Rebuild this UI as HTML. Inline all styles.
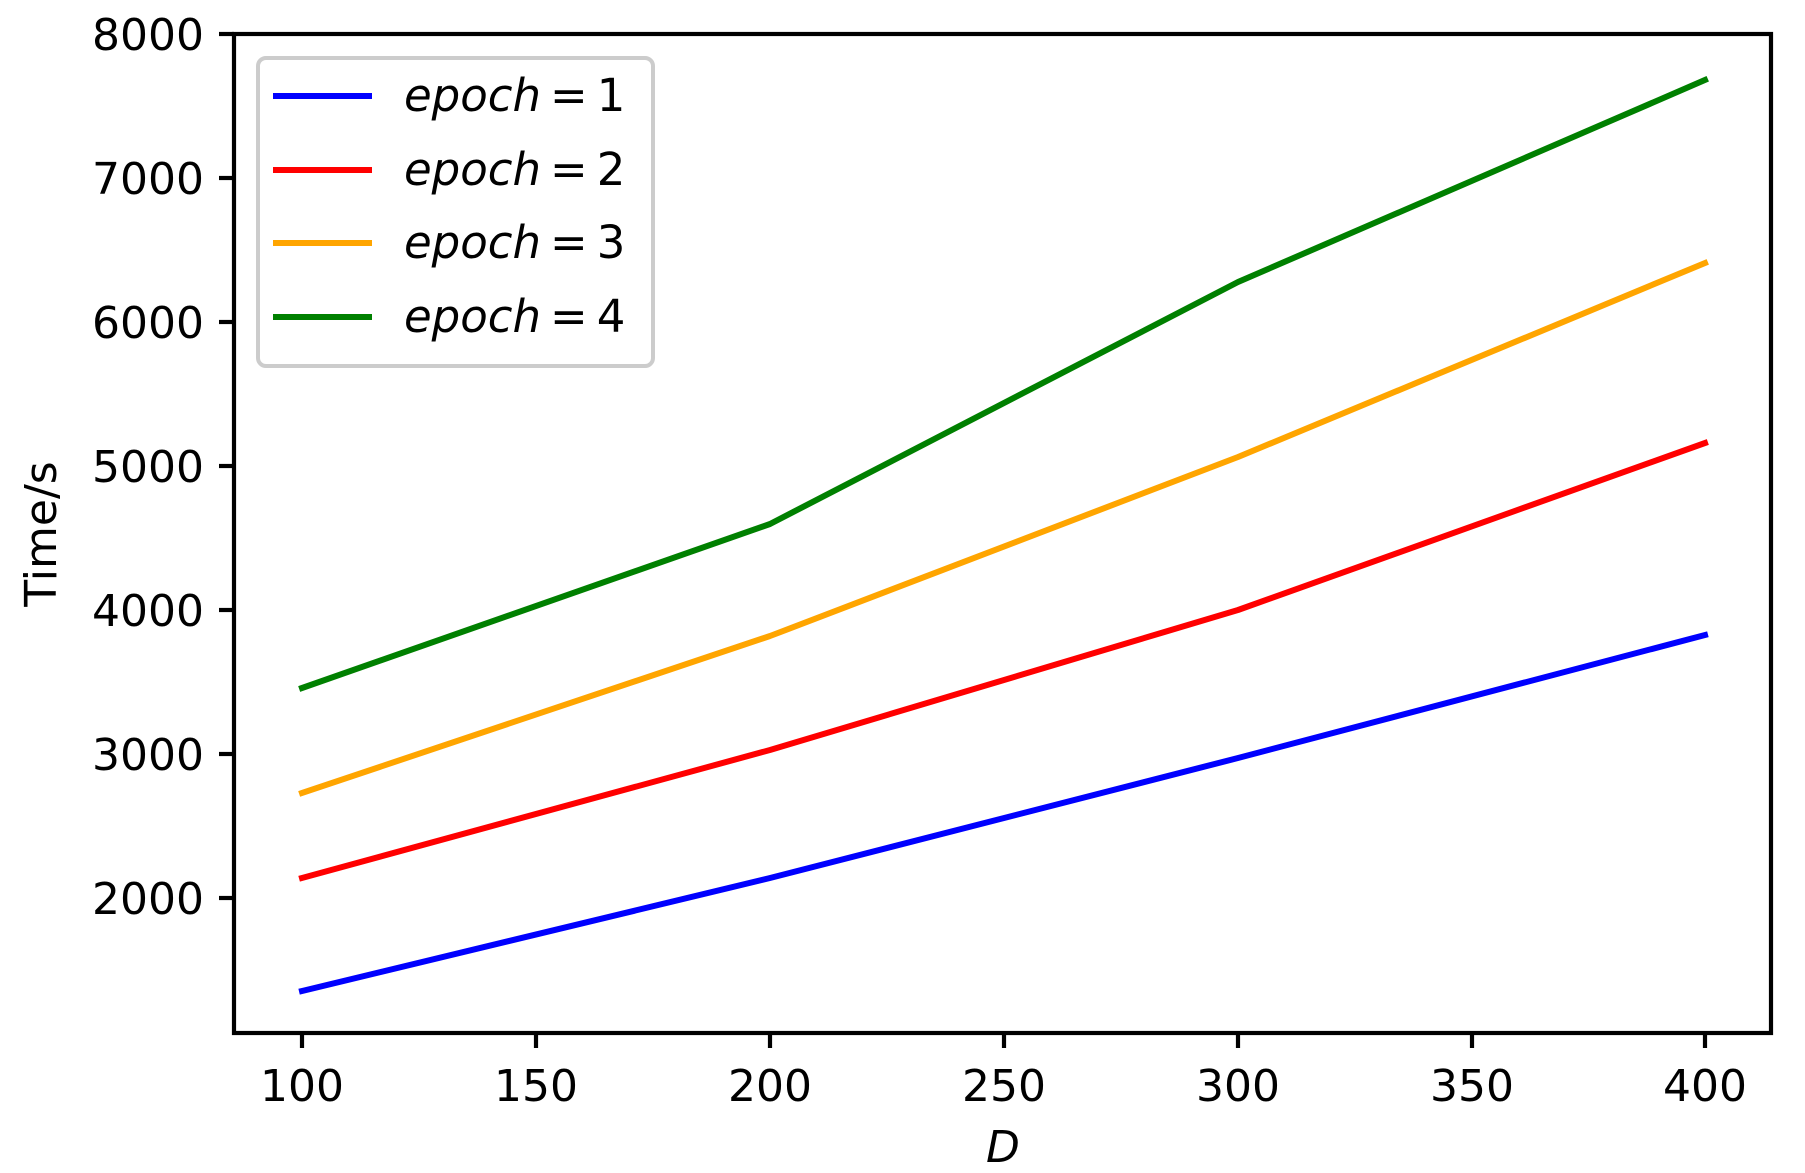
<!DOCTYPE html>
<html><head><meta charset="utf-8"><style>
html,body{margin:0;padding:0;background:#fff}
svg{display:block}
text{font-family:"DejaVu Sans","Liberation Sans",sans-serif;fill:#000}
</style></head><body>
<svg width="1805" height="1173" viewBox="0 0 1805 1173" xmlns="http://www.w3.org/2000/svg">
<g fill="none" stroke-width="6" stroke-linecap="square" stroke-linejoin="round">
<polyline stroke="#0000ff" points="302,991 770,878 1238,758 1705,635"/>
<polyline stroke="#ff0000" points="302,878 770,750 1238,610 1705,443"/>
<polyline stroke="#ffa500" points="302,793 770,636 1238,457 1705,263"/>
<polyline stroke="#008000" points="302,688 770,524 1238,282 1705,80"/>
</g>
<rect x="234" y="34" width="1537" height="999" fill="none" stroke="#000" stroke-width="4.2"/>
<g stroke="#000" stroke-width="4.2">
<line x1="302" y1="1033" x2="302" y2="1048"/>
<line x1="536" y1="1033" x2="536" y2="1048"/>
<line x1="770" y1="1033" x2="770" y2="1048"/>
<line x1="1004" y1="1033" x2="1004" y2="1048"/>
<line x1="1238" y1="1033" x2="1238" y2="1048"/>
<line x1="1472" y1="1033" x2="1472" y2="1048"/>
<line x1="1705" y1="1033" x2="1705" y2="1048"/>
<line x1="219" y1="34" x2="234" y2="34"/>
<line x1="219" y1="178" x2="234" y2="178"/>
<line x1="219" y1="322" x2="234" y2="322"/>
<line x1="219" y1="466" x2="234" y2="466"/>
<line x1="219" y1="610" x2="234" y2="610"/>
<line x1="219" y1="754" x2="234" y2="754"/>
<line x1="219" y1="898" x2="234" y2="898"/>
</g>
<g font-size="44" text-anchor="middle">
<text x="302" y="1101">100</text>
<text x="536" y="1101">150</text>
<text x="770" y="1101">200</text>
<text x="1004" y="1101">250</text>
<text x="1238" y="1101">300</text>
<text x="1472" y="1101">350</text>
<text x="1705" y="1101">400</text>
</g>
<g font-size="44" text-anchor="end">
<text x="204" y="50">8000</text>
<text x="204" y="194">7000</text>
<text x="204" y="338">6000</text>
<text x="204" y="482">5000</text>
<text x="204" y="626">4000</text>
<text x="204" y="770">3000</text>
<text x="204" y="914">2000</text>
</g>
<text x="1003" y="1162" font-size="44" font-style="italic" text-anchor="middle">D</text>
<text transform="translate(56,534) rotate(-90)" font-size="44" text-anchor="middle">Time/s</text>
<rect x="258" y="58" width="395" height="308" rx="8" fill="#fff" fill-opacity="0.8" stroke="#cccccc" stroke-width="4"/>
<g stroke-width="6">
<line x1="273" y1="96" x2="372" y2="96" stroke="#0000ff"/>
<line x1="273" y1="170" x2="372" y2="170" stroke="#ff0000"/>
<line x1="273" y1="243" x2="372" y2="243" stroke="#ffa500"/>
<line x1="273" y1="317" x2="372" y2="317" stroke="#008000"/>
</g>
<g font-size="45">
<text x="404" y="111"><tspan font-style="italic">epoch</tspan><tspan dx="9">=</tspan><tspan dx="9">1</tspan></text>
<text x="404" y="185"><tspan font-style="italic">epoch</tspan><tspan dx="9">=</tspan><tspan dx="9">2</tspan></text>
<text x="404" y="258"><tspan font-style="italic">epoch</tspan><tspan dx="9">=</tspan><tspan dx="9">3</tspan></text>
<text x="404" y="332"><tspan font-style="italic">epoch</tspan><tspan dx="9">=</tspan><tspan dx="9">4</tspan></text>
</g>
</svg>
</body></html>
